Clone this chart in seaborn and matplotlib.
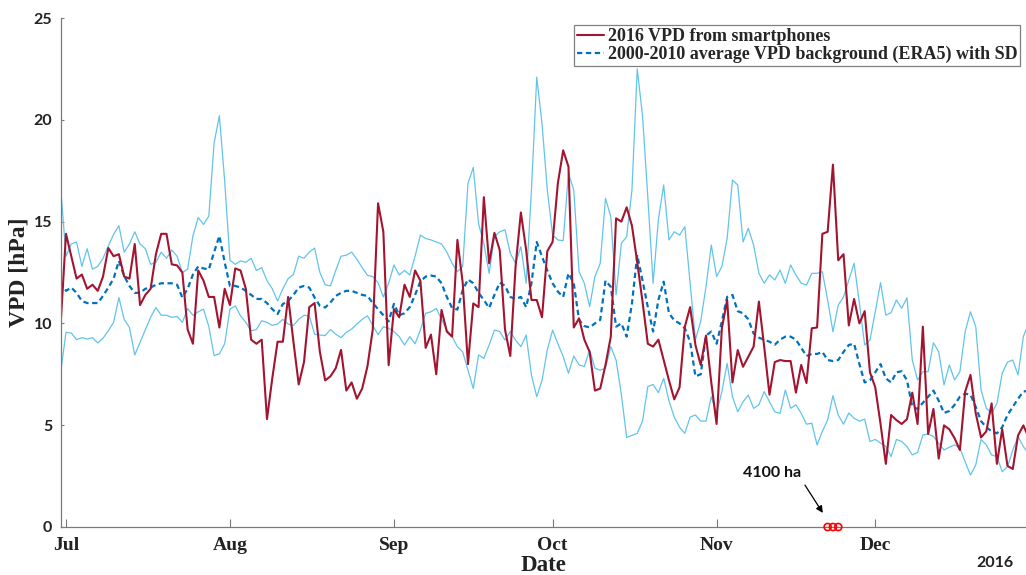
import matplotlib
matplotlib.use("Agg")
import matplotlib.pyplot as plt
import matplotlib.dates as mdates
import pandas as pd
import seaborn as sns

# ---------------- data (daily values, starting 2016-06-30) ----------------
start_date = "2016-06-30"

vpd_2016 = [
    10.0, 14.4, 13.3, 12.2, 12.4, 11.7, 11.9, 11.6, 12.3, 13.7,
    13.3, 13.4, 12.3, 12.2, 13.9, 10.9, 11.4, 11.7, 13.4, 14.4,
    14.4, 12.9, 12.85, 12.5, 9.7, 9.0, 12.6, 12.1, 11.3, 11.3,
    9.8, 11.7, 10.9, 12.7, 12.6, 11.7, 9.2, 9.0, 9.2, 5.3,
    7.3, 9.1, 9.1, 11.3, 9.1, 7.0, 8.1, 10.8, 11.0, 8.6,
    7.2, 7.4, 7.8, 8.7, 6.7, 7.1, 6.3, 6.8, 7.9, 9.7,
    15.9, 14.5, 7.95, 10.7, 10.3, 11.9, 11.3, 12.6, 12.1, 8.8,
    9.45, 7.5, 10.66, 9.6, 9.35, 14.1, 12.0, 8.0, 10.98, 10.8,
    16.2, 12.95, 14.45, 13.6, 9.7, 8.4, 12.8, 15.45, 13.6, 11.15,
    11.15, 10.3, 13.55, 14.0, 16.9, 18.5, 17.7, 9.8, 10.25, 9.2,
    8.6, 6.7, 6.8, 7.96, 9.35, 15.16, 15.0, 15.7, 14.8, 13.0,
    11.07, 9.0, 8.86, 9.2, 8.2, 7.2, 6.27, 6.86, 9.84, 10.8,
    8.94, 7.96, 9.4, 7.1, 5.06, 9.76, 11.15, 7.1, 8.69, 7.87,
    8.36, 8.86, 11.07, 8.86, 6.5, 8.1, 8.2, 8.15, 8.15, 6.6,
    7.96, 7.07, 9.76, 9.8, 14.4, 14.5, 17.8, 13.1, 13.4, 9.9,
    11.2, 10.0, 10.6, 7.6, 6.86, 5.06, 3.1, 5.5, 5.25, 5.06,
    5.3, 6.6, 5.06, 9.84, 4.57, 5.8, 3.36, 4.99, 4.8, 4.36,
    3.78, 6.65, 7.47, 5.58, 4.4, 4.7, 6.07, 3.1, 4.8, 3.0,
    2.85, 4.5, 4.99, 4.4,
]

vpd_mean = [
    12.04, 11.6, 11.76, 11.5, 11.1, 11.0, 11.0, 11.0, 11.35, 11.76,
    12.2, 13.07, 12.33, 11.84, 11.5, 11.5, 11.7, 11.76, 11.9, 11.97,
    11.97, 11.97, 11.9, 11.27, 11.7, 12.4, 12.8, 12.7, 12.65, 13.5,
    14.3, 13.0, 11.84, 11.84, 11.76, 11.6, 11.4, 11.2, 11.2, 11.0,
    10.7, 10.46, 10.95, 11.1, 11.4, 11.76, 11.84, 11.76, 11.27, 10.86,
    10.78, 11.03, 11.35, 11.5, 11.6, 11.6, 11.5, 11.4, 11.35, 11.0,
    10.7, 10.4, 10.1, 10.96, 10.4, 10.5, 10.8, 11.4, 12.06, 12.3,
    12.35, 12.3, 11.97, 11.3, 10.76, 10.68, 11.64, 12.16, 11.97, 11.5,
    11.15, 10.76, 11.4, 12.0, 11.85, 11.3, 11.2, 11.3, 10.8, 11.97,
    14.0, 13.28, 12.6, 11.97, 11.56, 11.3, 12.46, 11.97, 10.17, 9.87,
    9.8, 10.0, 10.17, 12.1, 11.8, 9.84, 10.0, 9.35, 10.98, 13.36,
    12.1, 10.8, 9.6, 11.15, 12.05, 10.5, 10.15, 10.0, 9.76, 9.1,
    7.4, 7.5, 9.4, 9.6, 9.0, 10.1, 11.3, 11.4, 10.6, 10.5,
    10.2, 9.5, 9.3, 9.2, 9.1, 8.95, 9.2, 9.35, 9.35, 9.2,
    8.8, 8.4, 8.5, 8.5, 8.6, 8.2, 8.15, 8.2, 8.6, 8.94,
    9.0, 8.0, 7.1, 7.2, 7.6, 8.0, 7.3, 7.1, 7.6, 7.65,
    7.2, 5.9, 5.8, 6.1, 6.4, 6.7, 6.2, 5.6, 5.7, 6.0,
    6.4, 6.55, 6.5, 5.9, 5.2, 4.9, 4.7, 4.6, 4.9, 5.5,
    5.9, 6.3, 6.65, 6.7,
]

vpd_upper = [
    16.65, 13.3, 13.9, 14.0, 12.8, 13.67, 12.66, 12.8, 13.2, 13.8,
    14.37, 14.8, 13.5, 13.9, 14.5, 13.9, 13.67, 12.9, 13.0, 13.5,
    13.2, 13.6, 13.3, 12.5, 12.66, 14.3, 15.2, 14.86, 15.27, 18.86,
    20.2, 17.0, 13.1, 12.9, 13.07, 13.0, 13.2, 12.6, 12.74, 12.1,
    11.7, 11.1, 11.7, 12.2, 12.4, 13.3, 13.2, 13.5, 13.7, 12.5,
    11.9, 11.84, 12.6, 13.3, 13.35, 13.5, 13.15, 12.74, 12.36, 12.3,
    12.0, 11.3, 11.97, 12.87, 12.38, 12.6, 12.38, 13.3, 14.34, 14.17,
    14.1, 14.0, 13.9, 13.5, 12.95, 12.54, 12.79, 16.88, 17.66, 14.9,
    13.93, 12.46, 14.26, 14.5, 14.6, 13.44, 12.95, 13.77, 11.97, 16.55,
    22.1, 19.8, 16.55, 14.34, 14.1, 14.06, 17.36, 16.55, 12.54, 11.97,
    10.82, 12.3, 12.95, 16.14, 15.24, 11.4, 13.93, 14.26, 16.55, 22.5,
    20.2, 16.2, 11.97, 15.1, 16.8, 14.1, 14.5, 14.34, 14.75, 11.97,
    9.2, 10.1, 11.8, 13.85, 12.3, 12.79, 14.18, 17.04, 16.8, 14.0,
    14.67, 13.85, 12.46, 11.97, 12.38, 12.13, 12.62, 11.97, 12.87, 12.38,
    11.97, 11.88, 12.46, 12.46, 12.54, 11.15, 9.59, 10.9, 11.3, 12.13,
    12.95, 11.0, 8.94, 9.19, 10.57, 12.0, 10.4, 10.53, 11.15, 10.74,
    11.26, 8.2, 7.22, 7.63, 7.63, 9.05, 8.6, 6.98, 7.96, 7.22,
    7.63, 9.6, 10.57, 9.84, 6.73, 5.83, 5.58, 6.07, 7.55, 8.1,
    8.2, 7.47, 9.35, 10.0,
]

vpd_lower = [
    7.6, 9.56, 9.53, 9.2, 9.3, 9.23, 9.3, 9.04, 9.27, 9.64,
    10.05, 11.27, 10.2, 9.8, 8.45, 9.07, 9.7, 10.3, 10.78, 10.4,
    10.4, 10.3, 10.34, 10.05, 10.73, 10.4, 10.57, 10.7, 9.85, 8.42,
    8.5, 9.0, 10.7, 10.86, 10.37, 10.05, 9.64, 9.7, 10.13, 10.05,
    9.9, 9.97, 10.2, 9.97, 9.9, 10.2, 10.4, 10.37, 9.47, 9.43,
    9.4, 9.7, 9.47, 9.3, 9.56, 9.72, 9.97, 10.2, 10.37, 9.9,
    9.45, 9.84, 9.76, 9.6, 9.35, 8.94, 9.35, 9.0, 9.67, 10.5,
    10.57, 10.74, 10.2, 9.67, 9.35, 8.86, 8.6, 7.7, 6.8, 8.45,
    8.28, 8.94, 9.67, 9.6, 9.18, 9.6, 9.18, 8.86, 9.43, 7.46,
    6.4, 7.2, 8.7, 9.67, 9.0, 8.37, 7.55, 8.4, 7.96, 7.88,
    8.7, 7.8, 7.7, 7.8, 8.86, 8.2, 6.5, 4.4, 4.5, 4.6,
    5.2, 6.9, 7.0, 6.6, 7.3, 6.2, 5.4, 4.9, 4.6, 5.4,
    5.5, 5.2, 5.2, 6.4, 5.58, 6.65, 8.04, 6.4, 5.66, 6.15,
    6.48, 5.83, 6.0, 6.65, 6.15, 5.66, 5.58, 6.73, 5.83, 6.0,
    5.58, 5.05, 5.1, 4.03, 4.7, 5.26, 6.45, 5.5, 5.05, 5.6,
    5.34, 5.2, 5.3, 4.2, 4.3, 4.12, 3.95, 3.46, 4.3, 4.2,
    3.95, 3.54, 3.66, 4.52, 4.57, 4.44, 4.12, 3.78, 3.92, 4.03,
    3.87, 3.2, 2.55, 3.05, 4.3, 4.03, 3.54, 3.46, 2.72, 2.96,
    3.78, 4.44, 3.95, 3.6,
]

fire_dates = ["2016-11-22", "2016-11-23", "2016-11-24"]
fire_vpd = [0, 0, 0]

y_ticks = [0, 5, 10, 15, 20, 25]
label_2016 = "2016 VPD from smartphones"
label_mean = "2000-2010 average VPD background (ERA5) with SD"
annot_text = "4100 ha"
annot_tip = ("2016-11-21 02:00", 0.69)
annot_start = ("2016-11-17 17:00", 2.06)
annot_text_pos = ("2016-11-11 12:00", 2.65)

# ---------------- styling ----------------
sns.set_theme(style="white")
plt.rcParams["font.family"] = ["DejaVu Sans"]

RED = "#A2142F"
BLUE = "#0072BD"
LIGHT = "#62C4EA"
SPINE = "#7a7a7a"
SERIF = ["Liberation Serif", "DejaVu Serif"]
SANS = ["Lato", "DejaVu Sans"]

fig = plt.figure(figsize=(10.26, 5.75), dpi=100)
ax = fig.add_axes([60.7 / 1026, 48 / 575, 1 - 60.7 / 1026, 509 / 575])

n = len(vpd_2016)
df = pd.DataFrame({
    "date": pd.date_range(start_date, periods=n, freq="D"),
    "vpd": vpd_2016,
    "mean": vpd_mean[:n],
    "upper": vpd_upper[:n],
    "lower": vpd_lower[:n],
})

sns.lineplot(data=df, x="date", y="upper", color=LIGHT, linewidth=0.9, ax=ax)
sns.lineplot(data=df, x="date", y="lower", color=LIGHT, linewidth=0.9, ax=ax)
sns.lineplot(data=df, x="date", y="mean", color=BLUE, linewidth=1.6,
             linestyle=(0, (2.4, 1.6)), ax=ax, label=label_mean)
sns.lineplot(data=df, x="date", y="vpd", color=RED, linewidth=1.5, ax=ax,
             label=label_2016)

fire_df = pd.DataFrame({"date": pd.to_datetime(fire_dates), "vpd": fire_vpd})
sns.scatterplot(data=fire_df, x="date", y="vpd", marker="o", s=26,
                facecolors="none", edgecolors="red", linewidths=1.2,
                clip_on=False, zorder=5, ax=ax)

# annotation
ax.annotate("", xy=(pd.Timestamp(annot_tip[0]), annot_tip[1]),
            xytext=(pd.Timestamp(annot_start[0]), annot_start[1]),
            arrowprops=dict(arrowstyle="-|>", color="black", lw=0.9,
                            mutation_scale=10, shrinkA=0, shrinkB=0))
ax.text(pd.Timestamp(annot_text_pos[0]), annot_text_pos[1], annot_text,
        ha="center", va="center", fontsize=11.5, fontweight="bold",
        family=SANS, color="#111111")

# axes
ax.set_xlim(pd.Timestamp("2016-06-30"), pd.Timestamp("2016-12-29 12:00"))
ax.set_ylim(0, 25)
ax.set_yticks(y_ticks)
ax.xaxis.set_major_locator(mdates.MonthLocator())
ax.xaxis.set_major_formatter(mdates.DateFormatter("%b"))

for s in ["top", "right"]:
    ax.spines[s].set_visible(False)
for s in ["left", "bottom"]:
    ax.spines[s].set_color(SPINE)
    ax.spines[s].set_linewidth(0.9)

ax.tick_params(axis="x", direction="in", length=6, width=0.8, color=SPINE,
               pad=7, bottom=True)
ax.tick_params(axis="y", direction="in", length=2.5, width=0.8, color=SPINE,
               pad=6, left=True)
for t in ax.get_xticklabels():
    t.set_family(SERIF)
    t.set_fontweight("bold")
    t.set_fontsize(14)
    t.set_color("#222222")
for t in ax.get_yticklabels():
    t.set_family(SANS)
    t.set_fontweight("bold")
    t.set_fontsize(11.5)
    t.set_color("#222222")

ax.set_xlabel("Date", family=SERIF, fontweight="bold", fontsize=16.5,
              color="#222222", labelpad=1)
ax.set_ylabel("VPD [hPa]", family=SERIF, fontweight="bold", fontsize=17,
              color="#222222", labelpad=3)

handles, labels = ax.get_legend_handles_labels()
order = [labels.index(label_2016), labels.index(label_mean)]
leg = ax.legend([handles[i] for i in order], [labels[i] for i in order],
                loc="upper right", bbox_to_anchor=(0.994, 0.986),
                borderaxespad=0, frameon=True, fancybox=False, framealpha=1,
                edgecolor="#808080", handlelength=1.5, handletextpad=0.2,
                borderpad=0.15, labelspacing=0.05,
                prop={"family": SERIF, "weight": "bold", "size": 13})
leg.get_frame().set_linewidth(0.9)

fig.text(995 / 1026, 1 - 563 / 575, "2016", ha="center", va="center",
         family=SANS, fontweight="bold", fontsize=11.5, color="#222222")

fig.savefig("out.png", dpi=100)
